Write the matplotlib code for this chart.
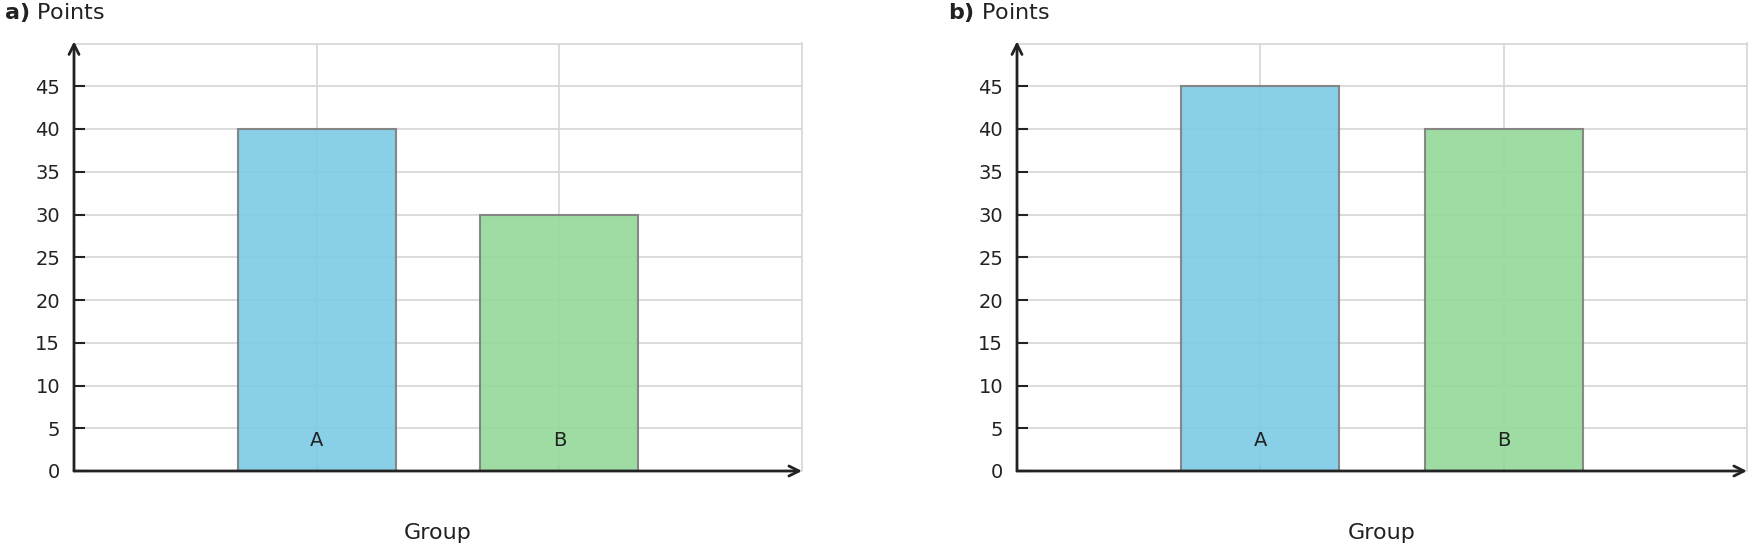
import numpy as np
import matplotlib
matplotlib.use("Agg")
import matplotlib.pyplot as plt

# values
groups = ["A", "B"]
points_a = [40, 30]
points_b = [45, 40]
panel_names = ["a)", "b)"]
yticks = list(range(0, 50, 5))

bar_colors = ["#7fcbe6", "#97d99b"]
grid_color = "#d6d6d6"
axis_color = "#222222"

plt.rcParams["font.family"] = "DejaVu Sans"
plt.rcParams["font.size"] = 14

fig = plt.figure(figsize=(17.5, 5.48), dpi=100)

W, H = 1750.0, 548.0
# axes boxes in pixels: left, right
boxes = [(74, 802), (1017, 1747)]
bottom_px, top_px = 471, 43.5
title_x = [4.5, 947.5]


def draw_panel(ax, values, name, tx):
    x = np.arange(len(groups))
    ax.bar(x, values, width=0.65, color=bar_colors, alpha=0.92,
           edgecolor="#7f7f7f", linewidth=1.5, zorder=2)
    ax.set_xlim(-1, len(groups))
    ax.set_ylim(0, 50)
    ax.set_yticks(yticks)
    ax.set_xticks(x)
    ax.set_xticklabels([])
    ax.grid(True, color=grid_color, linewidth=1.2, zorder=0)
    ax.set_axisbelow(True)

    for s in ["top", "right"]:
        ax.spines[s].set_color(grid_color)
        ax.spines[s].set_linewidth(1.2)
    for s in ["left", "bottom"]:
        ax.spines[s].set_visible(False)

    ax.tick_params(axis="y", direction="in", length=8, width=1.5,
                   color=axis_color, labelcolor=axis_color, pad=10)
    ax.tick_params(axis="x", direction="in", length=4, width=1.2,
                   color="#6a8f7a", labelcolor=axis_color)

    # axis arrows
    ax.annotate("", xy=(0, 1.005), xytext=(0, 0), xycoords="axes fraction",
                arrowprops=dict(arrowstyle="->", color=axis_color, lw=2,
                                shrinkA=0, shrinkB=0, mutation_scale=18),
                zorder=5, annotation_clip=False)
    ax.annotate("", xy=(1.0, 0), xytext=(0, 0), xycoords="axes fraction",
                arrowprops=dict(arrowstyle="->", color=axis_color, lw=2,
                                shrinkA=0, shrinkB=0, mutation_scale=18),
                zorder=5, annotation_clip=False)

    # group labels inside the bars
    for xi, g in zip(x, groups):
        ax.annotate(g, xy=(xi, 0), xytext=(0, 30), textcoords="offset pixels",
                    ha="center", va="center", color=axis_color, zorder=6)

    ax.text(0.5, -0.145, "Group", transform=ax.transAxes, ha="center",
            va="center", color=axis_color, fontsize=16)
    fig.text(tx / W, 1 - 12.5 / H, r"$\mathbf{" + name + "}$ Points",
             ha="left", va="center", color=axis_color, fontsize=16)


for (l, r), vals, name, tx in zip(boxes, [points_a, points_b], panel_names, title_x):
    ax = fig.add_axes([l / W, 1 - bottom_px / H, (r - l) / W, (bottom_px - top_px) / H])
    draw_panel(ax, vals, name, tx)

fig.savefig("out.png", dpi=100)
